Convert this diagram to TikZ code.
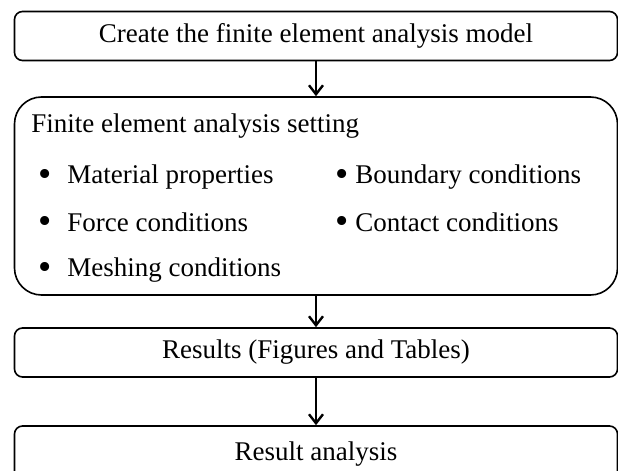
\documentclass[tikz,border=0pt]{standalone}
\usepackage{graphicx}
\usepackage{fontspec}
\setmainfont{Liberation Serif}
\usetikzlibrary{arrows.meta}

\newcommand{\bigbul}{\raisebox{-0.1em}{\scalebox{1.4}{\textbullet}}}

\begin{document}
\begin{tikzpicture}[x=0.5pt,y=-0.5pt,
    stepbox/.style={draw, line width=0.8pt, rounded corners=4pt,
      minimum width=301.5pt, minimum height=24.5pt, inner sep=0pt,
      font=\fontsize{13.5}{16}\selectfont},
    setbox/.style={stepbox, rounded corners=13.5pt, minimum height=99pt},
    itemtext/.style={anchor=west, inner sep=0pt, font=\fontsize{13.5}{16}\selectfont},
    flow/.style={-{Straight Barb[length=4.5pt,width=7pt,line width=1.2pt]}, line width=1.2pt}]
  \useasboundingbox (0,0) rectangle (618,471);
  % main steps
  \node[stepbox] (model) at (316,36) {Create the finite element analysis model};
  \node[setbox] (setting) at (316,196) {};
  \node[stepbox] (results) at (316,352.5) {Results (Figures and Tables)};
  \node[stepbox, minimum height=28pt] (analysis) at (316,454) {\raisebox{2.5pt}{Result analysis}};
  % contents of the setting box
  \node[itemtext] (head) at (31,126) {Finite element analysis setting};
  \node[itemtext] (material) at (38,177) {\makebox[14.5pt][l]{\bigbul}Material properties};
  \node[itemtext] (force) at (38,223) {\makebox[14.5pt][l]{\bigbul}Force conditions};
  \node[itemtext] (mesh) at (38,270) {\makebox[14.5pt][l]{\bigbul}Meshing conditions};
  \node[itemtext] (boundary) at (335.5,177) {\makebox[9.75pt][l]{\bigbul}Boundary conditions};
  \node[itemtext] (contact) at (335.5,223) {\makebox[9.75pt][l]{\bigbul}Contact conditions};
  % arrows
  \draw[flow] (model) -- (setting);
  \draw[flow] (setting) -- (results);
  \draw[flow] (results) -- (analysis);
\end{tikzpicture}
\end{document}
